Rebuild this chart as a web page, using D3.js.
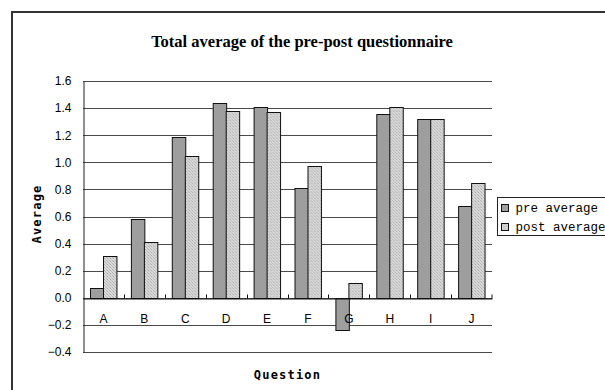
<!DOCTYPE html>
<html>
<head>
<meta charset="utf-8">
<script src="https://cdn.jsdelivr.net/npm/d3@7"></script>
<style>
  body { margin: 0; background: #fff; }
  svg { display: block; }
</style>
</head>
<body>
<div id="chart"></div>
<script>
/* Grouped bar chart: pre / post questionnaire averages */

const categories = ["A", "B", "C", "D", "E", "F", "G", "H", "I", "J"];
const preAverage = [0.07, 0.58, 1.19, 1.44, 1.41, 0.81, -0.24, 1.36, 1.32, 0.68];
const postAverage = [0.31, 0.41, 1.05, 1.38, 1.37, 0.97, 0.11, 1.41, 1.32, 0.85];
const seriesNames = ["pre average", "post average"];
const yTicks = [-0.4, -0.2, 0.0, 0.2, 0.4, 0.6, 0.8, 1.0, 1.2, 1.4, 1.6];

const width = 605,
    height = 390,
    margin = ({ top: 81, right: 113, bottom: 38, left: 83 });

const svg = d3.select("#chart")
    .append("svg")
    .attr("width", width)
    .attr("height", height)
    .attr("viewBox", [0, 0, width, height]);

// hatch fill for the post bars
const defs = svg.append("defs");
const pat = defs.append("pattern")
    .attr("id", "hatch")
    .attr("patternUnits", "userSpaceOnUse")
    .attr("width", 3)
    .attr("height", 3);
pat.append("rect").attr("width", 3).attr("height", 3).attr("fill", "#dadada");
pat.append("rect").attr("x", 0).attr("y", 0).attr("width", 1).attr("height", 1).attr("fill", "#a8a8a8");
pat.append("rect").attr("x", 1).attr("y", 1).attr("width", 1).attr("height", 1).attr("fill", "#c0c0c0");
pat.append("rect").attr("x", 2).attr("y", 2).attr("width", 1).attr("height", 1).attr("fill", "#b4b4b4");

const fills = ["#9e9e9e", "url(#hatch)"];

const data = categories.map((c, i) => ({ cat: c, values: [preAverage[i], postAverage[i]] }));

// outer frame (runs off the right and bottom edges)
svg.append("rect")
    .attr("x", 12)
    .attr("y", 12)
    .attr("width", 640)
    .attr("height", 420)
    .attr("fill", "none")
    .attr("stroke", "#333")
    .attr("stroke-width", 2);

let x = d3.scaleBand()
    .domain(categories)
    .range([margin.left, width - margin.right]);

let x1 = d3.scaleBand()
    .domain([0, 1])
    .range([0, x.bandwidth()])
    .paddingOuter(0.52);

let y = d3.scaleLinear()
    .domain([-0.4, 1.6])
    .range([height - margin.bottom, margin.top]);

// gridlines
svg.append("g")
    .attr("class", "grid")
    .selectAll("line")
    .data(yTicks)
    .join("line")
    .attr("x1", margin.left)
    .attr("x2", width - margin.right)
    .attr("y1", d => Math.round(y(d)) + 0.5)
    .attr("y2", d => Math.round(y(d)) + 0.5)
    .attr("stroke", "#4a4a4a")
    .attr("stroke-width", 1);

// y axis
const yAxis = svg.append("g")
    .attr("transform", `translate(${margin.left + 0.5},0)`)
    .call(d3.axisLeft(y).tickValues(yTicks).tickFormat(d3.format(".1f")).tickSize(0).tickPadding(12));
yAxis.select(".domain").attr("stroke", "#222");
yAxis.selectAll("text")
    .attr("font-family", "Liberation Sans, Arial, sans-serif")
    .attr("font-size", 12)
    .attr("fill", "#000");

// bars
svg.append("g")
    .selectAll("g")
    .data(data)
    .join("g")
    .attr("transform", d => `translate(${x(d.cat)},0)`)
    .selectAll("rect")
    .data(d => d.values.map((v, k) => ({ k, v })))
    .join("rect")
    .attr("x", d => Math.round(x1(d.k)) + 0.5)
    .attr("y", d => Math.round(y(Math.max(0, d.v))) + 0.5)
    .attr("width", x1.bandwidth())
    .attr("height", d => Math.abs(Math.round(y(d.v)) - Math.round(y(0))))
    .attr("fill", d => fills[d.k])
    .attr("stroke", "#111")
    .attr("stroke-width", 1);

// zero axis with small ticks between categories
const y0 = Math.round(y(0)) + 0.5;
const xAxis = svg.append("g")
    .attr("transform", `translate(0,${y0})`)
    .call(d3.axisTop(x).tickSize(0).tickFormat(""));
xAxis.select(".domain").attr("stroke", "#111");
svg.append("g")
    .selectAll("line")
    .data(categories.slice(1).concat(["end"]))
    .join("line")
    .attr("x1", d => d === "end" ? width - margin.right : Math.round(x(d)) + 0.5)
    .attr("x2", d => d === "end" ? width - margin.right : Math.round(x(d)) + 0.5)
    .attr("y1", y0)
    .attr("y2", y0 - 4)
    .attr("stroke", "#111");

// category labels sit below the zero line
svg.append("g")
    .selectAll("text")
    .data(categories)
    .join("text")
    .attr("x", d => x(d) + x.bandwidth() / 2)
    .attr("y", y(0) + 25)
    .attr("text-anchor", "middle")
    .attr("font-family", "Liberation Sans, Arial, sans-serif")
    .attr("font-size", 12)
    .text(d => d);

// title
svg.append("text")
    .attr("x", 302)
    .attr("y", 47)
    .attr("text-anchor", "middle")
    .attr("font-family", "Liberation Serif, Times New Roman, serif")
    .attr("font-weight", "bold")
    .attr("font-size", 16.5)
    .text("Total average of the pre-post questionnaire");

// axis titles
svg.append("text")
    .attr("transform", "translate(41,214) rotate(-90)")
    .attr("text-anchor", "middle")
    .attr("font-family", "DejaVu Sans Mono, monospace")
    .attr("font-weight", "bold")
    .attr("font-size", 12)
    .attr("letter-spacing", 1.2)
    .text("Average");

svg.append("text")
    .attr("x", (margin.left + width - margin.right) / 2)
    .attr("y", 379)
    .attr("text-anchor", "middle")
    .attr("font-family", "DejaVu Sans Mono, monospace")
    .attr("font-weight", "bold")
    .attr("font-size", 12)
    .attr("letter-spacing", 1.2)
    .text("Question");

// legend
const legend = svg.append("g").attr("transform", "translate(497.5,197.5)");
legend.append("rect")
    .attr("width", 130)
    .attr("height", 38)
    .attr("fill", "#fff")
    .attr("stroke", "#222");
const items = legend.selectAll("g.item")
    .data(seriesNames)
    .join("g")
    .attr("class", "item")
    .attr("transform", (d, i) => `translate(4,${7 + i * 19})`);
items.append("rect")
    .attr("width", 7)
    .attr("height", 7)
    .attr("fill", (d, i) => fills[i])
    .attr("stroke", "#111");
items.append("text")
    .attr("x", 14)
    .attr("y", 7)
    .attr("font-family", "Liberation Mono, Courier New, monospace")
    .attr("font-size", 12.5)
    .text(d => d);
</script>
</body>
</html>
